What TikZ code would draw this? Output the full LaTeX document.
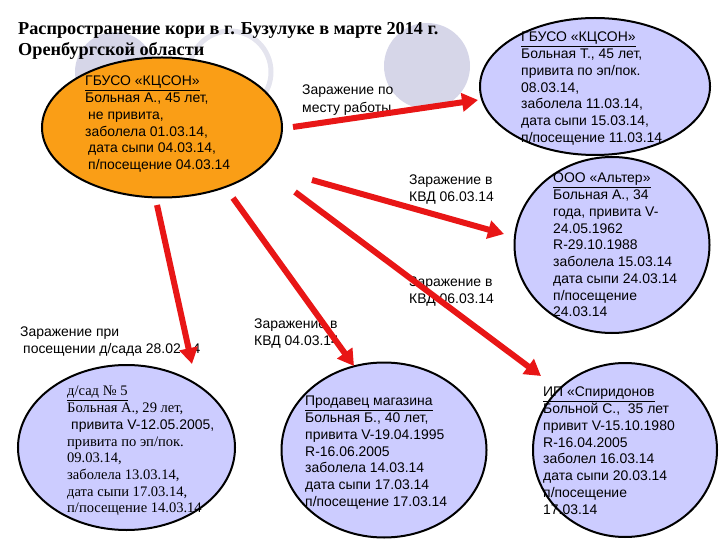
\documentclass[tikz,border=0pt]{standalone}
\usepackage{fontspec}
\setmainfont{Liberation Serif}
\newfontfamily\arialfont{Liberation Sans}
\usetikzlibrary{shapes.geometric,arrows.meta}
\definecolor{spreadred}{RGB}{232,22,22}
\definecolor{casefill}{RGB}{204,204,255}
\definecolor{srcfill}{RGB}{250,158,22}
\definecolor{decofill}{RGB}{214,214,232}
\definecolor{decoring}{RGB}{228,228,238}

\begin{document}
\begin{tikzpicture}[
	x=1bp, y=-1bp,
	patient/.style={draw=black, line width=2bp, ellipse, inner sep=0pt},
	info/.style={anchor=north west, inner sep=0pt, align=left, font=\arialfont\fontsize{14}{16.8}\selectfont},
	note/.style={anchor=north west, inner sep=0pt, align=left, font=\arialfont\fontsize{14}{17}\selectfont},
	spread/.style={-{Triangle[length=16bp,width=18bp]}, line width=6bp, color=spreadred},
	]
	\useasboundingbox (0,0) rectangle (720,540);
	%decoration
	\fill[decofill] (115,72) circle (40bp);
	\draw[decoring, line width=5bp] (230,72) circle (41bp);
	\fill[decofill] (427,66) circle (43bp);

	%title
	\node[anchor=north west, inner sep=0pt, align=left, font=\bfseries\fontsize{18.3}{21.5}\selectfont] (title) at (18,22)
		{Распространение кори в г. Бузулуке в марте 2014 г.\\Оренбургской области};

	%cases
	\node[patient, fill=srcfill, minimum width=240bp, minimum height=140bp] (src) at (162,127.5) {};
	\node[patient, fill=casefill, minimum width=230bp, minimum height=137bp] (kcson) at (595,86.5) {};
	\node[patient, fill=casefill, minimum width=195bp, minimum height=176bp] (alter) at (612,245) {};
	\node[patient, fill=casefill, minimum width=217bp, minimum height=165bp] (sad) at (126.5,447.5) {};
	\node[patient, fill=casefill, minimum width=205bp, minimum height=175bp] (shop) at (384,450) {};
	\node[patient, fill=casefill, minimum width=184bp, minimum height=174bp] (ip) at (625,450) {};

	%texts
	\node[info] (srctxt) at (85,76) {\underline{ГБУСО «КЦСОН»}\\Больная А., 45 лет,\\\hspace*{3bp}не привита,\\заболела 01.03.14,\\\hspace*{3bp}дата сыпи 04.03.14,\\\hspace*{3bp}п/посещение 04.03.14};
	\node[info] (kcsontxt) at (521,32) {\underline{ГБУСО «КЦСОН»}\\Больная Т., 45 лет,\\привита по эп/пок.\\08.03.14,\\заболела 11.03.14,\\дата сыпи 15.03.14,\\п/посещение 11.03.14};
	\node[info] (altertxt) at (553,173) {\underline{ООО «Альтер»}\\Больная А., 34\\года, привита V-\\24.05.1962\\R-29.10.1988\\заболела 15.03.14\\дата сыпи 24.03.14\\п/посещение\\24.03.14};
	\node[info, font=\fontsize{14.6}{16.8}\selectfont] (sadtxt) at (67,386) {\underline{д/сад № 5}\\Больная А., 29 лет,\\\hspace*{4bp}{\arialfont\fontsize{14}{16.8}\selectfont привита V-12.05.2005,}\\привита по эп/пок.\\09.03.14,\\заболела 13.03.14,\\дата сыпи 17.03.14,\\п/посещение 14.03.14};
	\node[info] (shoptxt) at (305,396) {\underline{Продавец магазина}\\Больная Б., 40 лет,\\привита V-19.04.1995\\R-16.06.2005\\заболела 14.03.14\\дата сыпи 17.03.14\\п/посещение 17.03.14};
	\node[info] (iptxt) at (543,387) {\underline{ИП «Спиридонов}\\Больной С.,~~35 лет\\привит V-15.10.1980\\R-16.04.2005\\заболел 16.03.14\\дата сыпи 20.03.14\\п/посещение\\17.03.14};

	%labels
	\node[note, font=\arialfont\fontsize{14}{18}\selectfont] (work) at (302,85) {Заражение по\\месту работы};
	\node[note] (kvdA) at (409,175) {Заражение в\\КВД 06.03.14};
	\node[note] (kvdB) at (409,277) {Заражение в\\КВД 06.03.14};
	\node[note] (kvdC) at (254,319) {Заражение в\\КВД 04.03.14};
	\node[note] (visit) at (20,327) {Заражение при\\\hspace*{3bp}посещении д/сада 28.02.14};

	%arrows
	\coordinate (s1) at (293,127); \coordinate (e1) at (478,100);
	\coordinate (s2) at (312,180); \coordinate (e2) at (504,234);
	\coordinate (s3) at (295,192); \coordinate (e3) at (541,376);
	\coordinate (s4) at (233,198); \coordinate (e4) at (354,366);
	\coordinate (s5) at (157,205); \coordinate (e5) at (192,364);
	\draw[spread] (s1) -- (e1);
	\draw[spread] (s2) -- (e2);
	\draw[spread] (s3) -- (e3);
	\draw[spread] (s4) -- (e4);
	\draw[spread] (s5) -- (e5);
\end{tikzpicture}
\end{document}
